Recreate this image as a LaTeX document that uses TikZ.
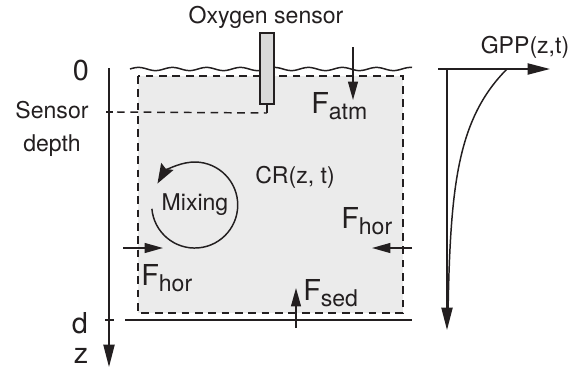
\documentclass[tikz,border=0pt]{standalone}
\usepackage{fontspec}
\setmainfont{TeX Gyre Heros}
\usepackage{tikz}
\usetikzlibrary{arrows.meta, calc}
\definecolor{InkDark}{HTML}{231F20}
\definecolor{LakeGray}{HTML}{EBEBEB}
\definecolor{ProbeGray}{HTML}{D9D9D9}
\newcommand{\lblfont}{\fontsize{16.4}{24}\selectfont}
\newcommand{\bigfont}{\fontsize{20.5}{24}\selectfont}
\newcommand{\flux}[1]{{\bigfont F}\raisebox{-4.5pt}{\lblfont #1}}
\tikzset{
  line/.style={color=InkDark, line width=1.05pt},
  boxline/.style={line, dash pattern=on 5.5pt off 4pt},
  axisarrow/.style={line, -{Triangle[length=16pt, width=8pt]}},
  fluxarrow/.style={line, -{Triangle[length=13pt, width=7pt]}},
  lbl/.style={font=\lblfont, color=InkDark, inner sep=0pt},
  biglbl/.style={font=\bigfont, color=InkDark, inner sep=0pt}
}

\begin{document}
\begin{tikzpicture}[x=0.025cm, y=-0.025cm]
  \useasboundingbox (0,0) rectangle (580,371);

  % Water column (control volume)
  \fill[LakeGray] (138,76) rectangle (403,313);
  \draw[boxline] (138,76) rectangle (403,313);

  % Water surface
  \draw[line, domain=130:412, samples=120] plot (\x, {69-1.6*sin(10.59*(\x-130))});

  % Oxygen sensor
  \filldraw[line, fill=ProbeGray] (260,33) rectangle (274,104);
  \coordinate (tip) at (267,113);
  \draw[color=InkDark, line width=2pt] (267,104) -- (tip);
  \node[lbl] (sensorlbl) at (266,17) {Oxygen sensor};

  % Depth axis
  \coordinate (ztop) at (109,68);
  \coordinate (zend) at (109,367);
  \draw[axisarrow] (ztop) -- (zend);
  \draw[line] (106,112) -- (113,112);
  \draw[boxline] (117,112) -- (tip);
  \draw[line] (105,320) -- (114,320);
  \draw[line] (125,320) -- (412,320);
  \node[biglbl] (zero) at (81,70) {0};
  \node[lbl, align=center] (sdepth) at (52,129) {Sensor\\depth};
  \node[biglbl] (dlbl) at (80,323) {d};
  \node[biglbl] (zlbl) at (81,356) {z};

  % Fluxes
  \draw[fluxarrow] (353,47) -- (353,100);
  \node[lbl, anchor=base west] (fatm) at (311,113) {\flux{atm}};
  \draw[fluxarrow] (123,248) -- (163,248);
  \node[lbl, anchor=base west] (fhorl) at (141,285) {\flux{hor}};
  \draw[fluxarrow] (412,248) -- (372,248);
  \node[lbl, anchor=base west] (fhorr) at (341,228) {\flux{hor}};
  \draw[fluxarrow] (296,328) -- (296,288);
  \node[lbl, anchor=base west] (fsed) at (303,300) {\flux{sed}};

  % Respiration and mixing
  \node[lbl] (cr) at (295,177) {CR(z, t)};
  \node[lbl, circle, minimum size=2.15cm] (mix) at (195,205) {Mixing};
  \draw[line, -{Stealth[length=14pt, width=10pt, inset=2pt]}] (mix.185) arc[start angle=185, end angle=510, radius=1.075cm];

  % Production profile
  \draw[axisarrow] (438,69) -- (550,69);
  \draw[axisarrow] (447,69) -- (447,330);
  \draw[line, domain=69:318, samples=80] plot ({447+60*exp(-(\x-69)/60)}, \x);
  \node[lbl] (gpp) at (525,47) {GPP(z,t)};
\end{tikzpicture}
\end{document}
